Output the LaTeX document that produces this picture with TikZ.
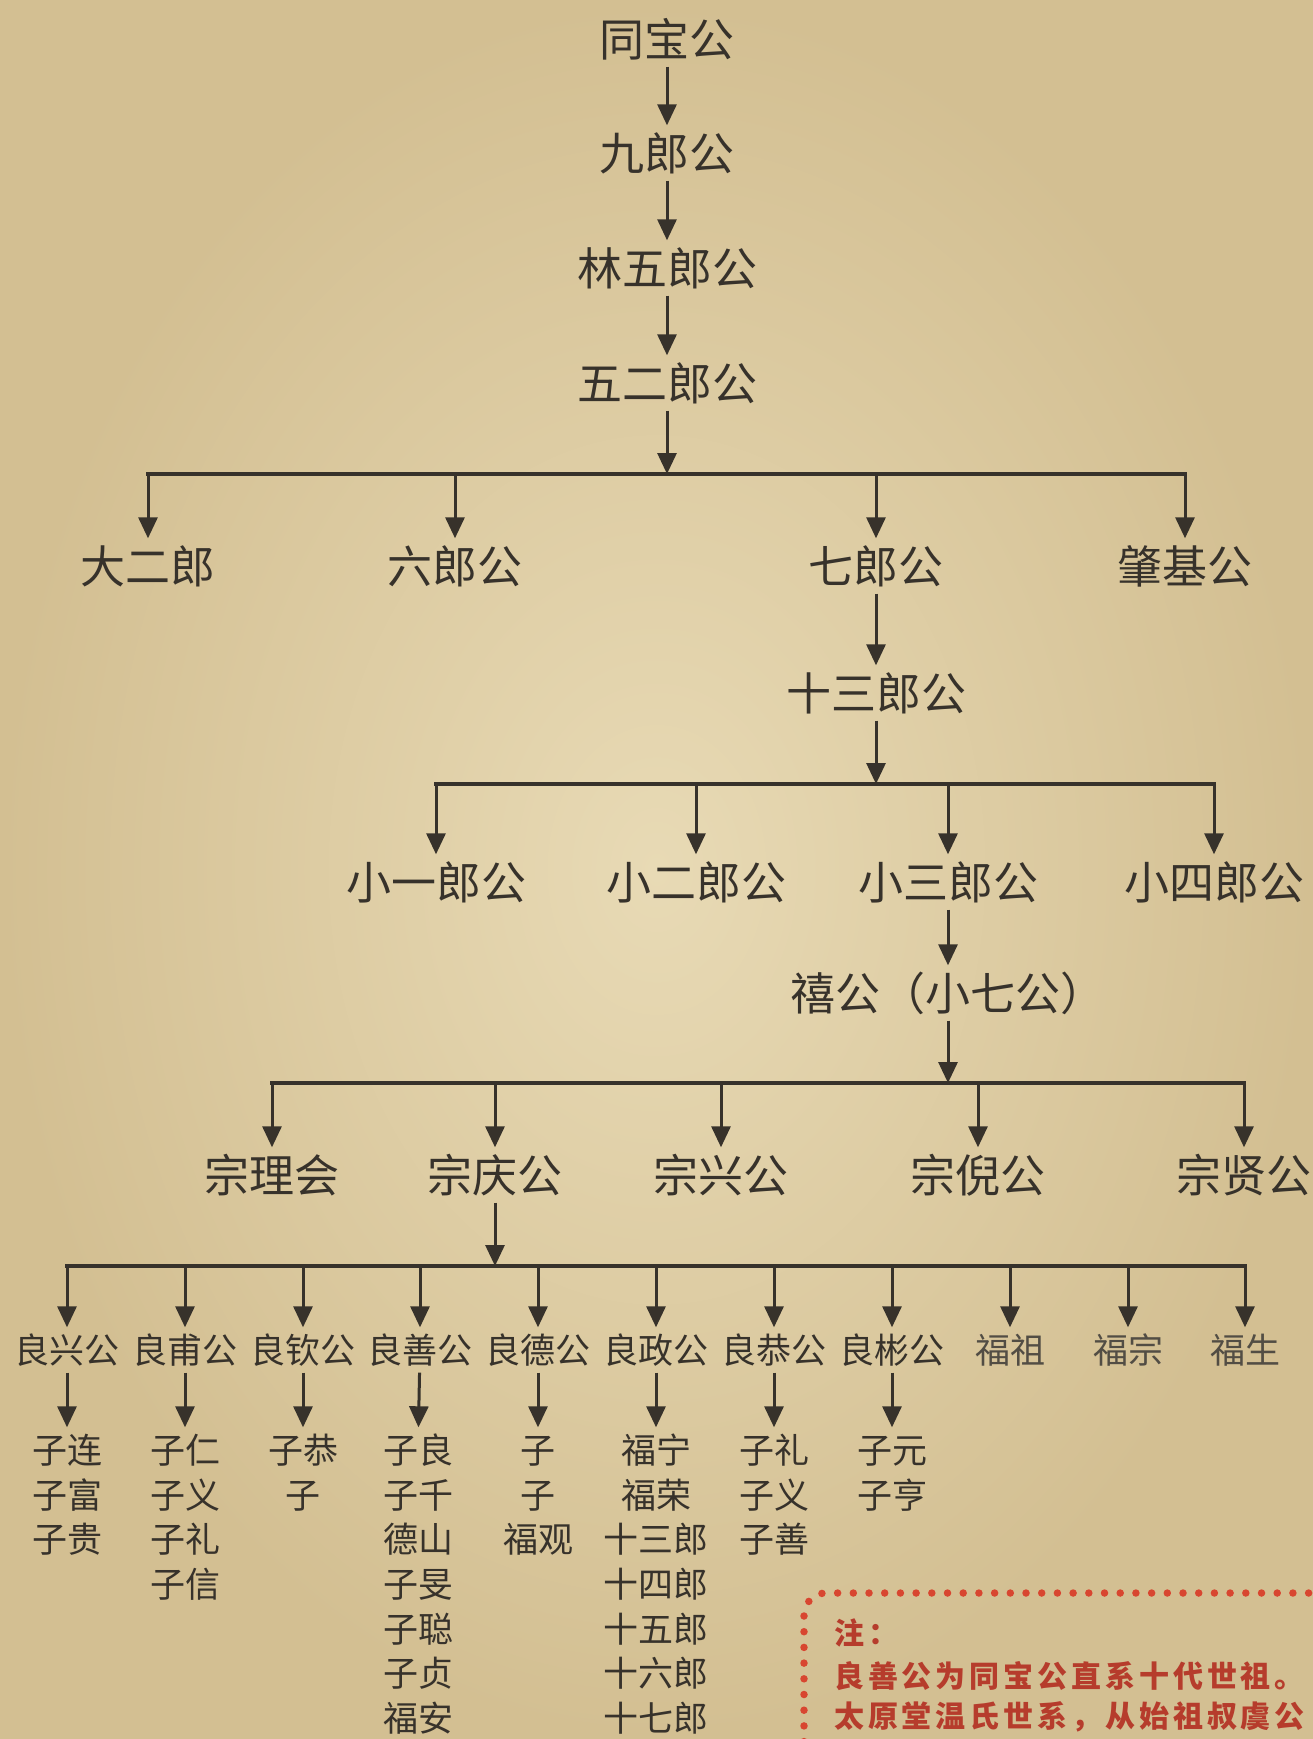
\documentclass[tikz,border=0pt]{standalone}
\usepackage{fontspec}
\setmainfont{Noto Sans CJK SC}
\newfontfamily\notefont[LetterSpace=13]{Noto Sans CJK SC}
\usetikzlibrary{arrows.meta}
\definecolor{ink}{RGB}{55,50,43}
\definecolor{fade}{RGB}{82,77,68}
\definecolor{paper}{RGB}{222,206,164}
\definecolor{paperlight}{RGB}{232,218,181}
\definecolor{paperdark}{RGB}{211,191,146}
\definecolor{notered}{RGB}{182,60,44}
\definecolor{dotred}{RGB}{216,70,48}
\begin{document}
\begin{tikzpicture}[x=1pt,y=-1pt,
  big/.style={font=\fontsize{45}{50}\selectfont, text=ink, text height=39.6pt, text depth=5.4pt, inner xsep=0pt, inner ysep=5pt},
  small/.style={font=\fontsize{35}{40}\selectfont, text=ink, text height=30.8pt, text depth=4.2pt, inner xsep=0pt, inner ysep=5pt},
  note/.style={font=\notefont\bfseries\fontsize{30}{34}\selectfont, text=notered, text height=26.4pt, text depth=3.6pt, inner sep=0pt, anchor=west},
  arr/.style={draw=ink, line width=3pt, -{Triangle[length=21pt,width=19pt]}},
  busline/.style={draw=ink, line width=4pt, line cap=rect}]
\useasboundingbox (0,0) rectangle (1313,1739);
\clip (0,0) rectangle (1313,1739);
\fill[paper] (0,0) rectangle (1313,1739);
\shade[inner color=paperlight, outer color=paperdark] (0,0) rectangle (1313,1739);

% main line
\node[big] (tb) at (667,39) {同宝公};
\node[big] (jl) at (667,153) {九郎公};
\node[big] (lw) at (667,268) {林五郎公};
\node[big] (we) at (667,383) {五二郎公};
\coordinate (bus1) at (667,474);
\draw[arr] (tb) -- (jl);
\draw[arr] (jl) -- (lw);
\draw[arr] (lw) -- (we);
\draw[arr] (we) -- (bus1);

% level 2
\node[big] (de) at (148,566) {大二郎};
\node[big] (ll) at (455,566) {六郎公};
\node[big] (ql) at (876,566) {七郎公};
\node[big] (zj) at (1185,566) {肇基公};
\draw[busline] (de.north |- bus1) -- (zj.north |- bus1);
\foreach \c in {de,ll,ql,zj} \draw[arr] (\c.north |- bus1) -- (\c.north);

\node[big] (ss) at (876,693) {十三郎公};
\coordinate (bus2) at (876,784);
\draw[arr] (ql) -- (ss);
\draw[arr] (ss) -- (bus2);

% level 3
\node[big] (x1) at (436,882) {小一郎公};
\node[big] (x2) at (696,882) {小二郎公};
\node[big] (x3) at (948,882) {小三郎公};
\node[big] (x4) at (1214,882) {小四郎公};
\draw[busline] (x1.north |- bus2) -- (x4.north |- bus2);
\foreach \c in {x1,x2,x3,x4} \draw[arr] (\c.north |- bus2) -- (\c.north);

\node[big] (xg) at (948,993) {禧公（小七公）};
\coordinate (bus3) at (948,1083);
\draw[arr] (x3) -- (xg);
\draw[arr] (xg) -- (bus3);

% level 4
\node[big] (z1) at (272,1175) {宗理会};
\node[big] (z2) at (495,1175) {宗庆公};
\node[big] (z3) at (721,1175) {宗兴公};
\node[big] (z4) at (978,1175) {宗倪公};
\node[big] (z5) at (1244,1175) {宗贤公};
\draw[busline] (z1.north |- bus3) -- (z5.north |- bus3);
\foreach \c in {z1,z2,z3,z4,z5} \draw[arr] (\c.north |- bus3) -- (\c.north);

\coordinate (bus4) at (495,1266);
\draw[arr] (z2) -- (bus4);

% level 5
\foreach \n/\x/\t/\c in {1/67/良兴公/ink, 2/185/良甫公/ink, 3/303/良钦公/ink, 4/420/良善公/ink,
    5/538/良德公/ink, 6/656/良政公/ink, 7/774/良恭公/ink, 8/892/良彬公/ink,
    9/1010/福祖/fade, 10/1128/福宗/fade, 11/1245/福生/fade}
  \node[small, text=\c] (L\n) at (\x,1350) {\t};
\draw[busline] (L1.north |- bus4) -- (L11.north |- bus4);
\foreach \n in {1,...,11} \draw[arr] (L\n.north |- bus4) -- (L\n.north);

% children
\foreach \n/\x/\lst in {1/67/{子连,子富,子贵}, 2/185/{子仁,子义,子礼,子信}, 3/303/{子恭,子},
    4/418/{子良,子千,德山,子旻,子聪,子贞,福安}, 5/538/{子,子,福观},
    6/656/{福宁,福荣,十三郎,十四郎,十五郎,十六郎,十七郎}, 7/774/{子礼,子义,子善}, 8/892/{子元,子亨}} {
  \foreach \t [count=\i] in \lst
    \node[small] (K\n-\i) at (\x,{1450+44.7*(\i-1)}) {\t};
}
\foreach \n in {1,...,8} \draw[arr] (L\n) -- (K\n-1);

% note box
\draw[dotred, line width=7.5pt, line cap=round, dash pattern=on 0pt off 15.7pt, rounded corners=22pt]
  (1340,1593) -- (804,1593) -- (804,1780);
\node[note] (nt1) at (834,1633) {注：};
\node[note] (nt2) at (834,1676) {良善公为同宝公直系十代世祖。};
\node[note] (nt3) at (834,1716) {太原堂温氏世系，从始祖叔虞公};
\end{tikzpicture}
\end{document}
